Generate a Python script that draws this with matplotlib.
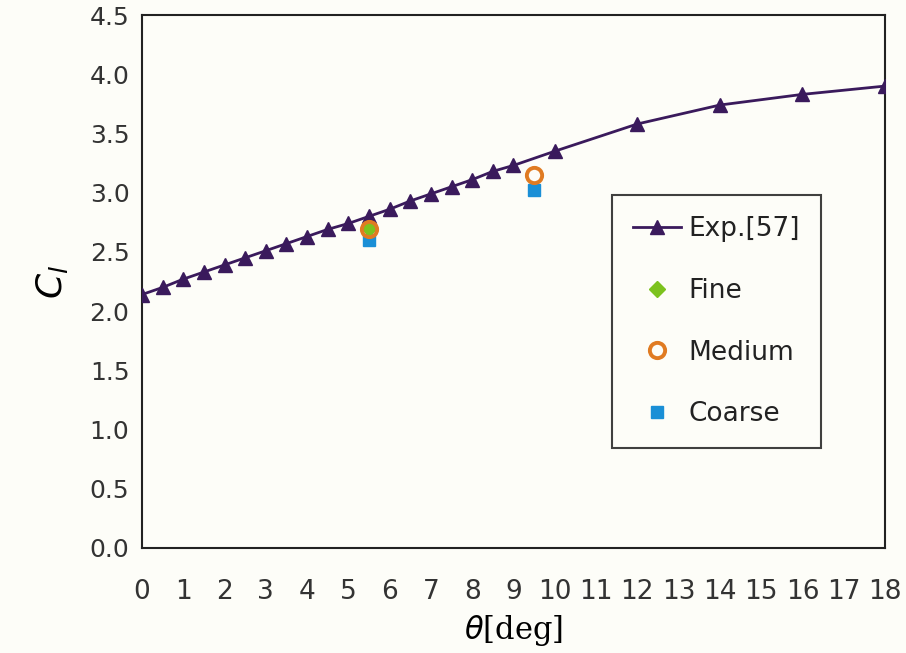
import matplotlib.pyplot as plt
import numpy as np

# experimental data
exp_theta = [0, 0.5, 1, 1.5, 2, 2.5, 3, 3.5, 4, 4.5, 5, 5.5, 6, 6.5, 7, 7.5, 8, 8.5, 9, 10, 12, 14, 16, 18]
exp_cl = [2.14, 2.20, 2.27, 2.33, 2.39, 2.45, 2.51, 2.57, 2.63, 2.69, 2.74, 2.80, 2.86, 2.93,
          2.99, 3.05, 3.11, 3.18, 3.23, 3.35, 3.58, 3.74, 3.83, 3.90]

# simulation results
fine_theta = [5.5]
fine_cl = [2.70]
medium_theta = [5.5, 9.5]
medium_cl = [2.69, 3.15]
coarse_theta = [5.5, 9.5]
coarse_cl = [2.60, 3.02]

bg = '#fdfdf8'
plt.rcParams['font.family'] = ['DejaVu Sans']

fig = plt.figure(figsize=(9.06, 6.53), dpi=100, facecolor=bg)
ax = fig.add_axes([0.1567, 0.1608, 0.8201, 0.8162])
ax.set_facecolor(bg)

ax.plot(exp_theta, exp_cl, color='#3a1a5c', linewidth=2, marker='^', markersize=10,
        label='Exp.[57]', zorder=3)
ax.plot(fine_theta, fine_cl, linestyle='none', marker='D', markersize=8, color='#7cc21e',
        label='Fine', zorder=4)
ax.plot(medium_theta, medium_cl, linestyle='none', marker='o', markersize=11,
        markerfacecolor='none', markeredgecolor='#e07b22', markeredgewidth=2.8,
        label='Medium', zorder=4)
ax.plot(coarse_theta, coarse_cl, linestyle='none', marker='s', markersize=8, color='#1a8fd6',
        label='Coarse', zorder=3)

ax.set_xlim(0, 18)
ax.set_ylim(0, 4.5)
ax.set_xticks(np.arange(0, 19, 1))
ax.set_yticks(np.arange(0, 4.51, 0.5))
ax.set_yticklabels([f'{v:.1f}' for v in np.arange(0, 4.51, 0.5)])
ax.tick_params(axis='both', length=0, colors='#333333')
ax.tick_params(axis='x', pad=22, labelsize=19)
ax.tick_params(axis='y', pad=9, labelsize=18)

for s in ax.spines.values():
    s.set_color('#222222')
    s.set_linewidth(1.5)

ax.set_xlabel(r'$\theta$[deg]', fontsize=22, family='DejaVu Serif', labelpad=6)
ax.set_ylabel(r'$C_l$', fontsize=26, labelpad=14)

leg = ax.legend(loc='upper left', bbox_to_anchor=(0.633, 0.662), fontsize=19,
                frameon=True, fancybox=False, edgecolor='#111111', facecolor=bg,
                labelspacing=1.35, handlelength=1.8, handletextpad=0.3,
                borderpad=0.8, borderaxespad=0)
leg.get_frame().set_linewidth(1.5)
for t in leg.get_texts():
    t.set_color('#222222')

fig.savefig('out.png', dpi=100, facecolor=bg)
